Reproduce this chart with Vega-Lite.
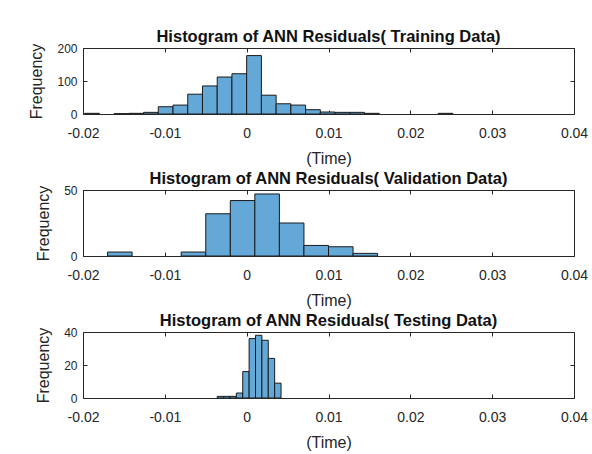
{
  "$schema": "https://vega.github.io/schema/vega-lite/v6.json",
  "background": "white",
  "padding": {"left": 28, "top": 28, "right": 5, "bottom": 5},
  "spacing": 76,
  "bounds": "flush",
  "datasets": {
    "train": [
      {"x0": -0.0198, "x1": -0.018, "count": 2},
      {"x0": -0.0162, "x1": -0.0144, "count": 1},
      {"x0": -0.0144, "x1": -0.0126, "count": 2},
      {"x0": -0.0126, "x1": -0.0108, "count": 5},
      {"x0": -0.0108, "x1": -0.009, "count": 22},
      {"x0": -0.009, "x1": -0.0072, "count": 27},
      {"x0": -0.0072, "x1": -0.0054, "count": 60},
      {"x0": -0.0054, "x1": -0.0036, "count": 85},
      {"x0": -0.0036, "x1": -0.0018, "count": 112},
      {"x0": -0.0018, "x1": 0, "count": 122},
      {"x0": 0, "x1": 0.0018, "count": 177},
      {"x0": 0.0018, "x1": 0.0036, "count": 57},
      {"x0": 0.0036, "x1": 0.0054, "count": 31},
      {"x0": 0.0054, "x1": 0.0072, "count": 27},
      {"x0": 0.0072, "x1": 0.009, "count": 13},
      {"x0": 0.009, "x1": 0.0108, "count": 6},
      {"x0": 0.0108, "x1": 0.0126, "count": 5},
      {"x0": 0.0126, "x1": 0.0144, "count": 5},
      {"x0": 0.0144, "x1": 0.0162, "count": 2},
      {"x0": 0.0234, "x1": 0.0252, "count": 2}
    ],
    "valid": [
      {"x0": -0.017, "x1": -0.014, "count": 3},
      {"x0": -0.008, "x1": -0.005, "count": 3},
      {"x0": -0.005, "x1": -0.002, "count": 32},
      {"x0": -0.002, "x1": 0.001, "count": 42},
      {"x0": 0.001, "x1": 0.004, "count": 47},
      {"x0": 0.004, "x1": 0.007, "count": 25},
      {"x0": 0.007, "x1": 0.010, "count": 8},
      {"x0": 0.010, "x1": 0.013, "count": 7},
      {"x0": 0.013, "x1": 0.016, "count": 2}
    ],
    "test": [
      {"x0": -0.0036, "x1": -0.00282, "count": 1},
      {"x0": -0.00282, "x1": -0.00204, "count": 1},
      {"x0": -0.00204, "x1": -0.00126, "count": 1},
      {"x0": -0.00126, "x1": -0.00048, "count": 3},
      {"x0": -0.00048, "x1": 0.0003, "count": 16},
      {"x0": 0.0003, "x1": 0.00108, "count": 36},
      {"x0": 0.00108, "x1": 0.00186, "count": 38},
      {"x0": 0.00186, "x1": 0.00264, "count": 35},
      {"x0": 0.00264, "x1": 0.00342, "count": 24},
      {"x0": 0.00342, "x1": 0.0042, "count": 9}
    ]
  },
  "vconcat": [
    {
      "width": 491, "height": 66,
      "data": {"name": "train"},
      "title": "Histogram of ANN Residuals( Training Data)",
      "layer": [
        {
          "mark": {"type": "bar", "fill": "#64A8D8", "stroke": "#1a1a1a", "strokeWidth": 1, "clip": true},
          "encoding": {
            "x": {"field": "x0", "type": "quantitative", "scale": {"domain": [-0.02, 0.04], "nice": false, "zero": false}, "title": "(Time)", "axis": {"orient": "bottom", "values": [-0.02, -0.01, 0, 0.01, 0.02, 0.03, 0.04], "labelExpr": "'' + datum.value"}},
            "x2": {"field": "x1"},
            "y": {"field": "count", "type": "quantitative", "scale": {"domain": [0, 200], "nice": false}, "title": "Frequency", "axis": {"orient": "left", "values": [0, 100, 200]}},
            "y2": {"datum": 0}
          }
        },
        {
          "mark": {"type": "bar", "opacity": 0},
          "encoding": {
            "x": {"field": "x0", "type": "quantitative", "title": null, "axis": {"orient": "top", "labels": false, "values": [-0.02, -0.01, 0, 0.01, 0.02, 0.03, 0.04]}},
            "x2": {"field": "x1"},
            "y": {"field": "count", "type": "quantitative", "title": null, "axis": {"orient": "right", "labels": false, "values": [0, 100, 200]}},
            "y2": {"datum": 0}
          }
        }
      ],
      "resolve": {"axis": {"x": "independent", "y": "independent"}}
    },
    {
      "width": 491, "height": 66,
      "data": {"name": "valid"},
      "title": "Histogram of ANN Residuals( Validation Data)",
      "layer": [
        {
          "mark": {"type": "bar", "fill": "#64A8D8", "stroke": "#1a1a1a", "strokeWidth": 1, "clip": true},
          "encoding": {
            "x": {"field": "x0", "type": "quantitative", "scale": {"domain": [-0.02, 0.04], "nice": false, "zero": false}, "title": "(Time)", "axis": {"orient": "bottom", "values": [-0.02, -0.01, 0, 0.01, 0.02, 0.03, 0.04], "labelExpr": "'' + datum.value"}},
            "x2": {"field": "x1"},
            "y": {"field": "count", "type": "quantitative", "scale": {"domain": [0, 50], "nice": false}, "title": "Frequency", "axis": {"orient": "left", "values": [0, 50]}},
            "y2": {"datum": 0}
          }
        },
        {
          "mark": {"type": "bar", "opacity": 0},
          "encoding": {
            "x": {"field": "x0", "type": "quantitative", "title": null, "axis": {"orient": "top", "labels": false, "values": [-0.02, -0.01, 0, 0.01, 0.02, 0.03, 0.04]}},
            "x2": {"field": "x1"},
            "y": {"field": "count", "type": "quantitative", "title": null, "axis": {"orient": "right", "labels": false, "values": [0, 50]}},
            "y2": {"datum": 0}
          }
        }
      ],
      "resolve": {"axis": {"x": "independent", "y": "independent"}}
    },
    {
      "width": 491, "height": 66,
      "data": {"name": "test"},
      "title": "Histogram of ANN Residuals( Testing Data)",
      "layer": [
        {
          "mark": {"type": "bar", "fill": "#64A8D8", "stroke": "#1a1a1a", "strokeWidth": 1, "clip": true},
          "encoding": {
            "x": {"field": "x0", "type": "quantitative", "scale": {"domain": [-0.02, 0.04], "nice": false, "zero": false}, "title": "(Time)", "axis": {"orient": "bottom", "values": [-0.02, -0.01, 0, 0.01, 0.02, 0.03, 0.04], "labelExpr": "'' + datum.value"}},
            "x2": {"field": "x1"},
            "y": {"field": "count", "type": "quantitative", "scale": {"domain": [0, 40], "nice": false}, "title": "Frequency", "axis": {"orient": "left", "values": [0, 20, 40]}},
            "y2": {"datum": 0}
          }
        },
        {
          "mark": {"type": "bar", "opacity": 0},
          "encoding": {
            "x": {"field": "x0", "type": "quantitative", "title": null, "axis": {"orient": "top", "labels": false, "values": [-0.02, -0.01, 0, 0.01, 0.02, 0.03, 0.04]}},
            "x2": {"field": "x1"},
            "y": {"field": "count", "type": "quantitative", "title": null, "axis": {"orient": "right", "labels": false, "values": [0, 20, 40]}},
            "y2": {"datum": 0}
          }
        }
      ],
      "resolve": {"axis": {"x": "independent", "y": "independent"}}
    }
  ],
  "config": {
    "view": {"stroke": "#262626", "strokeWidth": 1},
    "font": "Liberation Sans",
    "title": {"font": "Liberation Sans", "fontSize": 16.5, "fontWeight": "bold", "color": "#111111", "offset": -3, "anchor": "middle"},
    "axis": {
      "grid": false,
      "domain": false,
      "tickSize": -4,
      "tickColor": "#262626",
      "labelColor": "#262626",
      "titleColor": "#262626",
      "labelFont": "Liberation Sans",
      "titleFont": "Liberation Sans",
      "titleFontWeight": "normal"
    },
    "axisX": {"labelFontSize": 14, "labelPadding": 16, "titleFontSize": 16, "titlePadding": 10, "labelFlush": false},
    "axisY": {"labelFontSize": 12, "labelPadding": 10, "titleFontSize": 16, "titlePadding": 12}
  }
}
